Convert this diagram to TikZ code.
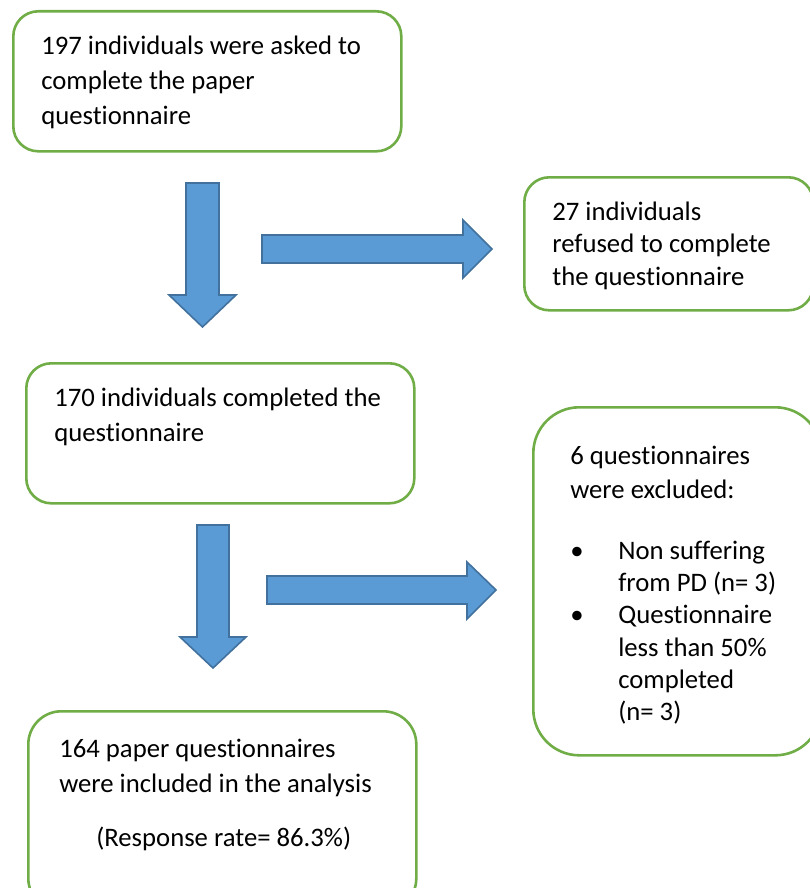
\documentclass[tikz,border=0pt]{standalone}
\usepackage{fontspec}
\setmainfont[Ligatures=NoCommon,RawFeature={-liga;-clig;-calt}]{Carlito}
\definecolor{boxgreen}{HTML}{70AD47}
\definecolor{arrowfill}{HTML}{5B9BD5}
\definecolor{arrowline}{HTML}{41719C}

\begin{document}
\begin{tikzpicture}[x=1pt,y=-1pt,
    box/.style={draw=boxgreen, line width=2.6pt, rounded corners=25pt, anchor=north west,
      align=flush left, inner ysep=0pt, inner xsep=28pt, font={\fontsize{26.7}{35}\selectfont}},
    fat/.style={fill=arrowfill, draw=arrowline, line width=1.6pt, line join=miter}]
    \useasboundingbox (0,0) rectangle (809,888);

    % --- boxes ---
    \node[box, text width=332pt, text height=43pt, text depth=97pt] (asked) at (12,10)
      {197 individuals were asked to\\complete the paper\\questionnaire};
    \node[box, text width=233pt, text height=43pt, text depth=90pt,
      font={\fontsize{26.7}{32.5}\selectfont}] (refused) at (523,176)
      {27 individuals\\refused to complete\\the questionnaire};
    \node[box, text width=332pt, text height=43pt, text depth=97pt] (completed) at (25,362)
      {170 individuals completed the\\questionnaire};
    \node[box, rounded corners=46pt, inner xsep=37pt, text width=214pt, text height=57pt, text depth=291pt,
      font={\fontsize{26.7}{32.2}\selectfont}] (excluded) at (532,406)
      {6 questionnaires\\[1.8pt]were excluded:\\[29pt]
       \makebox[48pt][l]{\textbullet}Non suffering\\
       \hspace*{48pt}from PD (n= 3)\\
       \makebox[48pt][l]{\textbullet}Questionnaire\\
       \hspace*{48pt}less than 50\%\\
       \hspace*{48pt}completed\\
       \hspace*{48pt}(n= 3)};
    \node[box, rounded corners=33pt, inner xsep=31pt, text width=326pt, text height=46pt, text depth=154pt]
      (included) at (27,710)
      {164 paper questionnaires\\were included in the analysis\\[19pt]
       \hspace*{37pt}(Response rate= 86.3\%)};

    % --- block arrows ---
    \draw[fat] (186,183) -- (219,183) -- (219,295) -- (236,295) -- (202.5,327) -- (169,295) -- (186,295) -- cycle;
    \draw[fat] (262,235) -- (463,235) -- (463,220) -- (492,249) -- (463,278) -- (463,263) -- (262,263) -- cycle;
    \draw[fat] (197,525) -- (229,525) -- (229,637) -- (246,637) -- (213,668) -- (180,637) -- (197,637) -- cycle;
    \draw[fat] (267,576) -- (467,576) -- (467,562) -- (496,590) -- (467,619) -- (467,604) -- (267,604) -- cycle;
  \end{tikzpicture}
\end{document}
